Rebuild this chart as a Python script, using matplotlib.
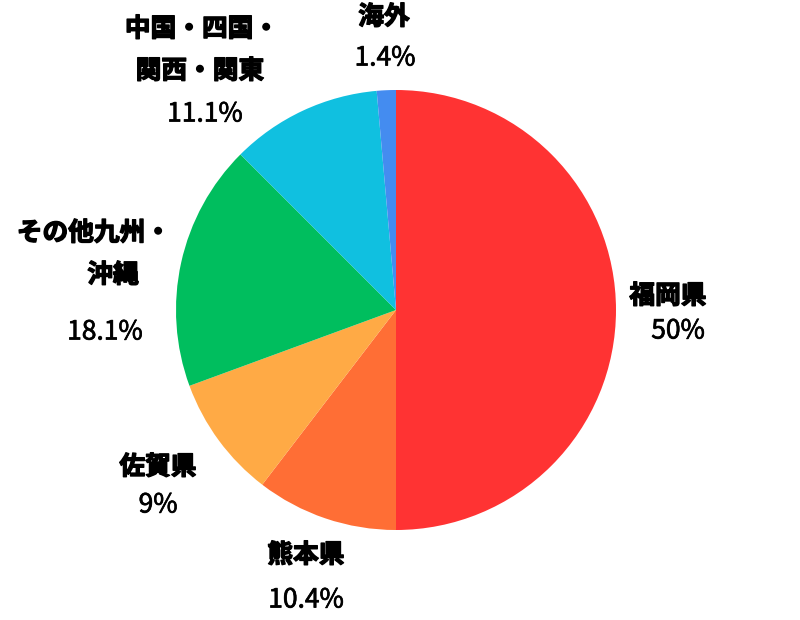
import matplotlib
matplotlib.use("Agg")
import matplotlib.pyplot as plt
import matplotlib.patheffects as pe

plt.rcParams["font.family"] = ["Noto Sans CJK JP", "DejaVu Sans"]

# Data (clockwise from 12 o'clock)
categories = ["福岡県", "熊本県", "佐賀県", "その他九州・\n沖縄", "中国・四国・\n関西・関東", "海外"]
values = [50, 10.4, 9, 18.1, 11.1, 1.4]
pct_labels = ["50%", "10.4%", "9%", "18.1%", "11.1%", "1.4%"]
colors = ["#ff3333", "#ff6e35", "#ffaa45", "#00be5e", "#10c0e0", "#448cf0"]

# label line centres in pixels (x, y from top); last entry of each is the percent line
label_px = [
    [(668, 296), (678, 331)],
    [(306, 555), (306, 600)],
    [(158, 467), (158, 505)],
    [(94, 233), (113, 275), (105, 332)],
    [(202, 29), (200, 71), (205, 114)],
    [(384, 17), (385, 58)],
]

W, H = 800, 620
fig = plt.figure(figsize=(W / 100, H / 100), dpi=100)
ax = fig.add_axes([0, 0, 1, 1])

ax.pie(values, colors=colors, startangle=90, counterclock=False,
       radius=1, center=(0, 0), wedgeprops={"linewidth": 0})

ax.set_xlim(-396 / 220, 404 / 220)
ax.set_ylim(-310 / 220, 310 / 220)
ax.axis("off")

# heavier strokes to get closer to the black-weight text of the original
heavy = [pe.withStroke(linewidth=1.0, foreground="black")]
medium = [pe.withStroke(linewidth=0.5, foreground="black")]

for name, pct, pos in zip(categories, pct_labels, label_px):
    lines = name.split("\n")
    for line, (px, py) in zip(lines, pos[:-1]):
        fig.text(px / W, 1 - py / H, line, ha="center", va="center",
                 fontsize=18.5, fontweight="bold", color="black", path_effects=heavy)
    px, py = pos[-1]
    fig.text(px / W, 1 - py / H, pct, ha="center", va="center",
             fontsize=19, color="black", path_effects=medium)

fig.savefig("out.png", dpi=100, facecolor="white")
